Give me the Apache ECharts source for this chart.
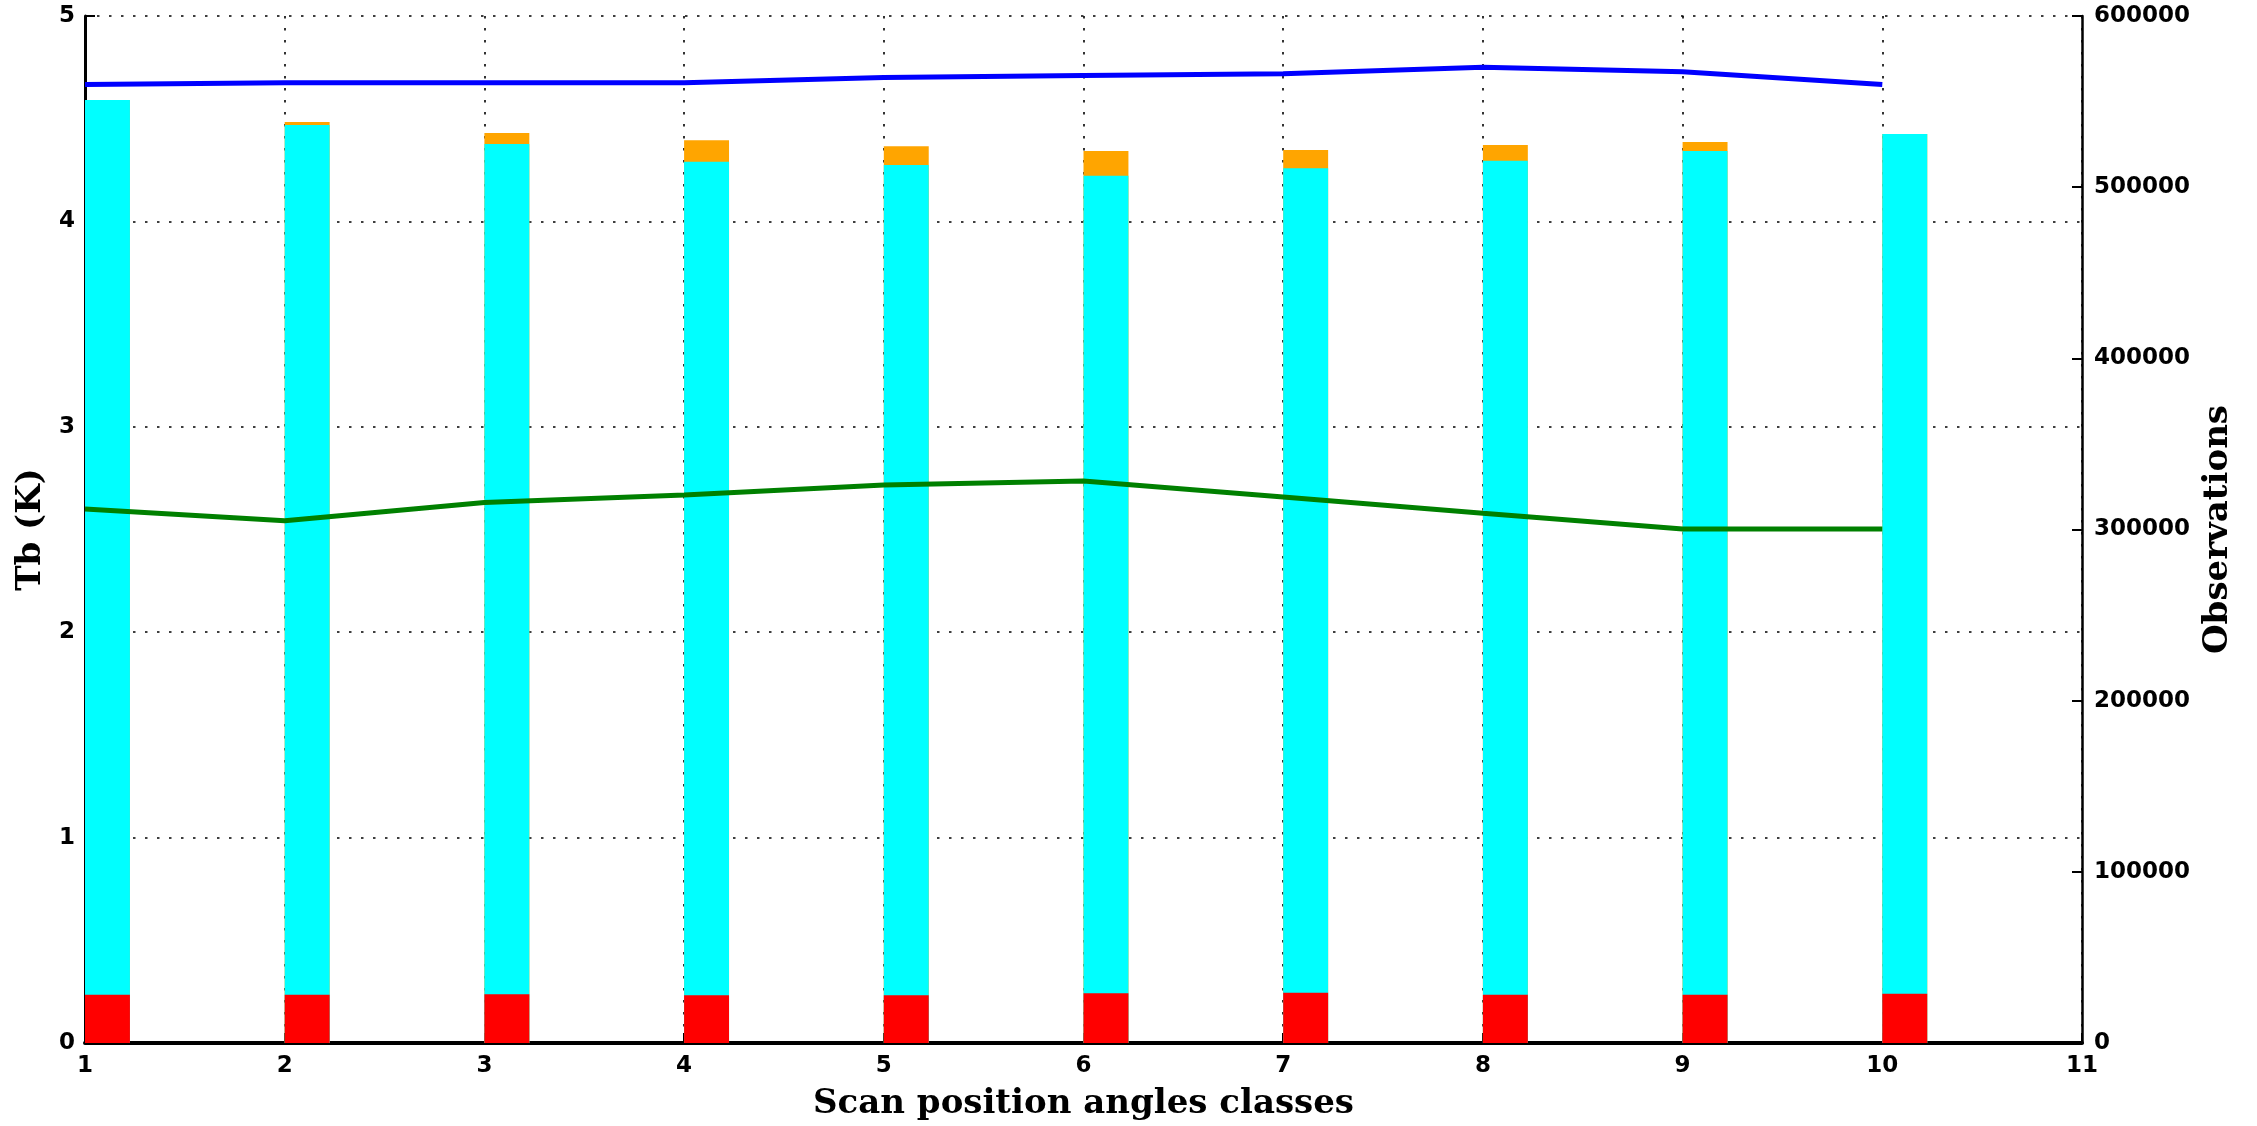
<!DOCTYPE html>
<html>
<head>
<meta charset="utf-8">
<script src="https://cdn.jsdelivr.net/npm/echarts@6/dist/echarts.min.js"></script>
<style>
html,body{margin:0;padding:0;background:#fff;}
#chart{width:2257px;height:1126px;}
</style>
</head>
<body>
<div id="chart"></div>
<script>
// Scan position classes
var classes = [1, 2, 3, 4, 5, 6, 7, 8, 9, 10];
// Left axis (Tb, K)
var blueLine = [4.667, 4.675, 4.675, 4.675, 4.700, 4.710, 4.719, 4.750, 4.729, 4.667];
var greenLine = [2.600, 2.543, 2.631, 2.668, 2.717, 2.736, 2.658, 2.579, 2.502, 2.502];
// Right axis (Observations)
var obsOrange = [550900, 538100, 531600, 527400, 523900, 521100, 521700, 524600, 526400, 531100];
var obsCyan   = [550900, 536300, 525200, 514900, 513000, 506700, 511000, 515500, 521100, 531100];
var obsRed    = [28200, 28200, 28450, 27870, 27870, 29040, 29400, 28200, 28200, 28800];
var barWidthUnits = 0.225;

var tickFont = {fontFamily: 'DejaVu Sans', fontWeight: 'bold', fontSize: 23, color: '#000'};
var nameFont = {fontFamily: 'DejaVu Serif', fontWeight: 'bold', fontSize: 34, color: '#000'};
var dotted = {color: '#000', width: 1.6, type: [2.5, 9.5]};

function pairs(xs, ys) { return xs.map(function (x, i) { return [x, ys[i]]; }); }

function barSeries(name, values, color, z) {
  return {
    name: name,
    type: 'custom',
    xAxisIndex: 0,
    yAxisIndex: 1,
    z: z,
    data: pairs(classes, values),
    encode: {x: 0, y: 1},
    renderItem: function (params, api) {
      var x = api.value(0), v = api.value(1);
      var p1 = api.coord([x, v]);
      var p0 = api.coord([x + barWidthUnits, 0]);
      return {
        type: 'rect',
        shape: {x: p1[0], y: p1[1], width: p0[0] - p1[0], height: p0[1] - p1[1]},
        style: {fill: color}
      };
    }
  };
}

var chart = echarts.init(document.getElementById('chart'), null, {renderer: 'canvas'});
chart.setOption({
  animation: false,
  backgroundColor: '#fff',
  grid: {left: 85, right: 175, top: 16, bottom: 83, containLabel: false},
  xAxis: {
    type: 'value', min: 1, max: 11, interval: 1,
    name: 'Scan position angles classes', nameLocation: 'middle', nameGap: 44,
    nameTextStyle: nameFont,
    axisLine: {show: true, onZero: false, lineStyle: {color: '#000', width: 4}},
    axisTick: {show: true, inside: true, length: 10, lineStyle: {color: '#000', width: 2}},
    axisLabel: Object.assign({margin: 12}, tickFont),
    splitLine: {show: true, lineStyle: dotted}
  },
  yAxis: [{
    type: 'value', min: 0, max: 5, interval: 1, position: 'left',
    name: 'Tb (K)', nameLocation: 'middle', nameGap: 35, nameRotate: 90,
    nameTextStyle: nameFont,
    axisLine: {show: true, lineStyle: {color: '#000', width: 3}},
    axisTick: {show: true, inside: true, length: 10, lineStyle: {color: '#000', width: 2}},
    axisLabel: Object.assign({margin: 10}, tickFont),
    splitLine: {show: true, lineStyle: dotted}
  }, {
    type: 'value', min: 0, max: 600000, interval: 100000, position: 'right',
    name: 'Observations', nameLocation: 'middle', nameGap: 118, nameRotate: 90,
    nameTextStyle: nameFont,
    axisLine: {show: true, lineStyle: {color: '#000', width: 2.5}},
    axisTick: {show: true, inside: true, length: 10, lineStyle: {color: '#000', width: 2}},
    axisLabel: Object.assign({margin: 12, formatter: function (v) { return String(v); }}, tickFont),
    splitLine: {show: false}
  }],
  series: [
    barSeries('Total', obsOrange, '#FFA500', 2),
    barSeries('Used', obsCyan, '#00FFFF', 3),
    barSeries('Rejected', obsRed, '#FF0000', 4),
    {
      name: 'Blue', type: 'line', xAxisIndex: 0, yAxisIndex: 0, z: 5,
      data: pairs(classes, blueLine), showSymbol: false, symbol: 'none',
      lineStyle: {color: '#0000FF', width: 5}
    },
    {
      name: 'Green', type: 'line', xAxisIndex: 0, yAxisIndex: 0, z: 5,
      data: pairs(classes, greenLine), showSymbol: false, symbol: 'none',
      lineStyle: {color: '#008000', width: 5}
    }
  ]
});
</script>
</body>
</html>
